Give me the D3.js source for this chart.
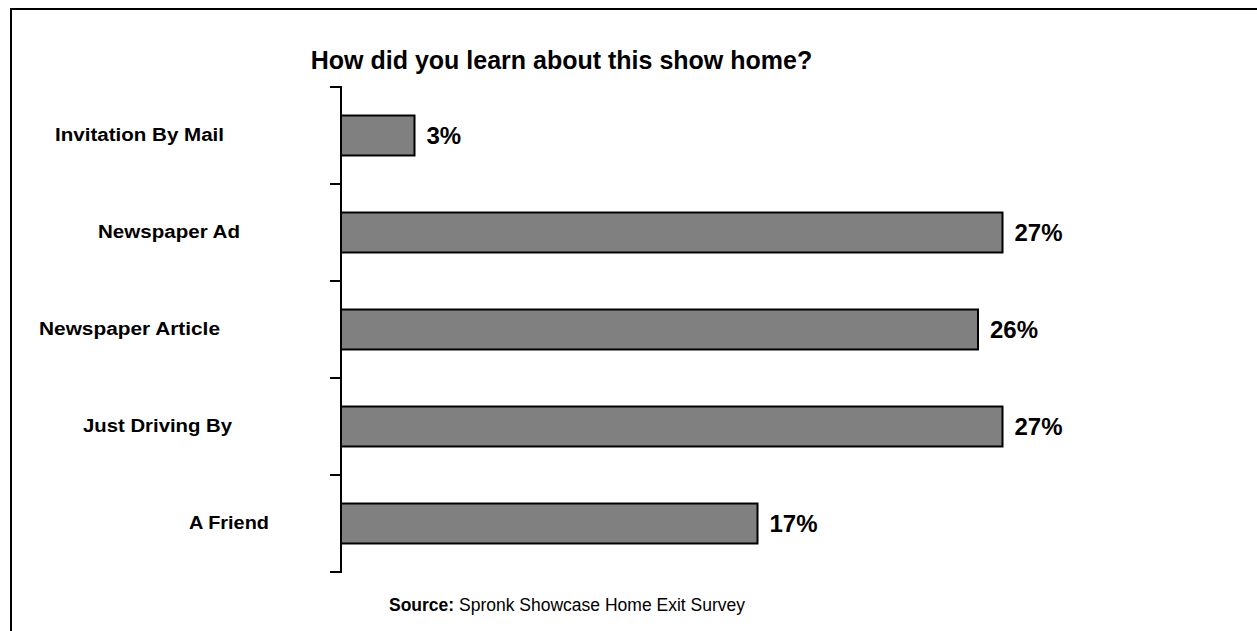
<!DOCTYPE html>
<html>
<head>
<meta charset="utf-8">
<script src="https://cdn.jsdelivr.net/npm/d3@7/dist/d3.min.js"></script>
<style>
  html, body { margin: 0; padding: 0; background: #fff; }
  svg { display: block; font-family: "Liberation Sans", Arial, sans-serif; }
</style>
</head>
<body>
<svg id="chart" width="1257" height="631"></svg>
<script>
// Survey answers, top to bottom
const categories = ["Invitation By Mail", "Newspaper Ad", "Newspaper Article", "Just Driving By", "A Friend"];
const percents = [3, 27, 26, 27, 17];
const valueLabels = ["3%", "27%", "26%", "27%", "17%"];

const titleText = "How did you learn about this show home?";
const sourceLead = "Source:";
const sourceText = " Spronk Showcase Home Exit Survey";

// Category label placement: left edge and rendered width of each label
const labelLeft = [55, 98, 39, 83, 189];
const labelWidth = [169, 142, 181, 149, 80];

const svg = d3.select("#chart");
const W = 1257, H = 631;

// Outer frame (open to the right and bottom)
svg.append("path")
  .attr("d", `M11,${H + 5} L11,9 L${W + 5},9`)
  .attr("fill", "none")
  .attr("stroke", "#000")
  .attr("stroke-width", 2);

// Title
svg.append("text")
  .attr("x", 561.5)
  .attr("y", 69)
  .attr("text-anchor", "middle")
  .attr("font-size", 25)
  .attr("font-weight", "bold")
  .attr("fill", "#000")
  .text(titleText);

const axisX = 341;
const x = d3.scaleLinear().domain([0, 30]).range([axisX, axisX + 735]);
const y = d3.scaleBand()
  .domain(categories)
  .range([87, 572])
  .paddingInner(0.588)
  .paddingOuter(0.294);

// Bars
svg.append("g").selectAll("rect")
  .data(categories)
  .join("rect")
  .attr("x", x(0))
  .attr("y", d => y(d))
  .attr("width", (d, i) => x(percents[i]) - x(0))
  .attr("height", y.bandwidth())
  .attr("fill", "#808080")
  .attr("stroke", "#000")
  .attr("stroke-width", 2);

// Category axis: vertical line with ticks between categories
const step = y.step();
const r0 = y.range()[0];
const axis = svg.append("g").attr("stroke", "#000").attr("stroke-width", 2);
axis.append("line")
  .attr("x1", axisX).attr("x2", axisX)
  .attr("y1", r0).attr("y2", r0 + step * categories.length);
axis.selectAll("line.tick")
  .data(d3.range(categories.length + 1))
  .join("line")
  .attr("class", "tick")
  .attr("x1", axisX - 11).attr("x2", axisX + 1)
  .attr("y1", i => r0 + i * step)
  .attr("y2", i => r0 + i * step);

// Category labels
svg.append("g").selectAll("text")
  .data(categories)
  .join("text")
  .attr("x", (d, i) => labelLeft[i])
  .attr("y", d => y(d) + y.bandwidth() / 2)
  .attr("dy", "0.33em")
  .attr("font-size", 18)
  .attr("font-weight", "bold")
  .attr("fill", "#000")
  .attr("textLength", (d, i) => labelWidth[i])
  .attr("lengthAdjust", "spacingAndGlyphs")
  .text(d => d);

// Value labels
svg.append("g").selectAll("text")
  .data(categories)
  .join("text")
  .attr("x", (d, i) => x(percents[i]) + 12)
  .attr("y", d => y(d) + y.bandwidth() / 2)
  .attr("dy", "0.35em")
  .attr("font-size", 24)
  .attr("font-weight", "bold")
  .attr("fill", "#000")
  .text((d, i) => valueLabels[i]);

// Source line
const src = svg.append("text")
  .attr("x", 567)
  .attr("y", 611)
  .attr("text-anchor", "middle")
  .attr("font-size", 17.5)
  .attr("fill", "#000");
src.append("tspan").attr("font-weight", "bold").text(sourceLead);
src.append("tspan").text(sourceText);
</script>
</body>
</html>
